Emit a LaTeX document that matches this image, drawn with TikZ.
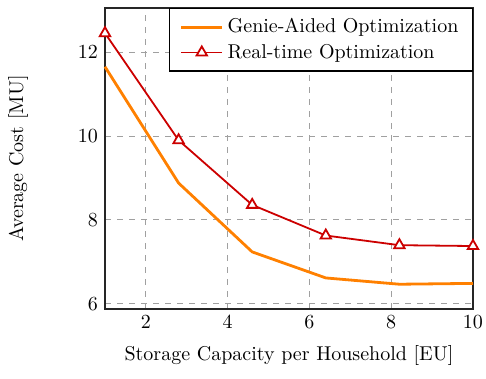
\documentclass[tikz,border=0pt]{standalone}
\usepackage{pgfplots}
\pgfplotsset{compat=1.18}
\usetikzlibrary{positioning}
\definecolor{genie}{HTML}{FF8000}
\definecolor{realtime}{HTML}{CC0000}
\definecolor{gridgray}{HTML}{A0A0A0}
\tikzset{
  % Curves
  genieline/.style={draw=genie, line width=1.4pt, mark=none},
  realline/.style={draw=realtime, line width=0.9pt, mark=triangle*,
                   mark size=3pt, mark options={fill=white, draw=realtime, line width=0.9pt}},
}

\begin{document}
\begin{tikzpicture}

% ====================================================================
% Frame of the picture
% ====================================================================
\useasboundingbox (0,0) rectangle (243pt,189.5pt);

% ====================================================================
% Cost vs. storage capacity
% ====================================================================
\begin{axis}[
  name=costplot,
  at={(52.5pt,35pt)}, anchor=south west,
  scale only axis, width=184pt, height=150.5pt,
  xmin=1, xmax=10, ymin=5.88, ymax=13.05,
  xtick={2,4,...,10}, ytick={6,8,10,12},
  grid=major, grid style={dashed, gridgray, line width=0.5pt},
  major tick length=0pt,
  axis line style={line width=0.7pt, black!85},
  clip=false,
  xlabel={Storage Capacity per Household [EU]},
  ylabel={Average Cost [MU]},
  xlabel style={at={(axis description cs:0.5,-0.1545)}, anchor=center},
  ylabel style={at={(axis description cs:-0.2364,0.5)}, anchor=center},
  legend style={at={(1,1)}, anchor=north east, draw=black, line width=0.6pt,
                font=\normalsize, cells={anchor=west},
                inner xsep=5pt, inner ysep=3pt},
  legend cell align=left,
  legend image code/.code={
    \draw[mark repeat=2, mark phase=2]
      plot coordinates {(0cm,0cm) (0.36cm,0cm) (0.72cm,0cm)};
  },
]
\addplot[genieline] coordinates {
  (1,11.65) (2.8,8.88) (4.6,7.24) (6.4,6.62) (8.2,6.47) (10,6.49)
};
\addlegendentry{Genie-Aided Optimization}
\addplot[realline] coordinates {
  (1,12.45) (2.8,9.9) (4.6,8.36) (6.4,7.63) (8.2,7.4) (10,7.38)
};
\addlegendentry{Real-time Optimization}
\end{axis}

\end{tikzpicture}
\end{document}
